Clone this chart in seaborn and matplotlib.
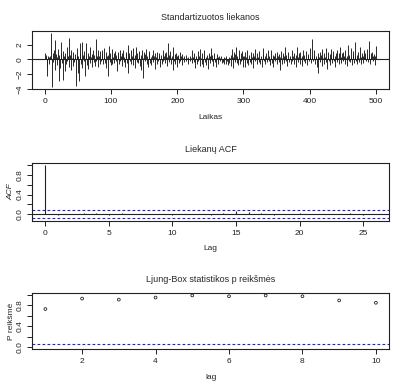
import numpy as np
import pandas as pd
import matplotlib
matplotlib.use('Agg')
import matplotlib.pyplot as plt
import seaborn as sns

# standardised residuals (500 obs)
RESID = [
    0.8, 0.6, -2.2, -1.1, 0.4, 0.3, -0.6, 0.5, 0.2, 3.55, -3.75, 0.9, -0.4, 1.2, 2.6, -1.5, 0.7, -0.8, 0.3, 1.4,
    -3.0, 0.6, -1.2, 0.8, 2.3, -0.5, -2.8, 1.1, 0.4, -1.6, 0.9, -0.7, 1.7, -0.3, 0.5, -1.0, 2.9, 0.6, -1.4, 1.3,
    0.2, -0.9, 1.0, -0.4, 0.7, 0.3, -3.6, 0.5, 1.5, -1.9, 0.4, -3.0, 0.8, 2.2, -0.6, 2.4, -1.2, 0.6, -0.3, 1.1,
    -2.2, 0.5, 2.2, -0.8, 0.9, -1.3, 0.4, 1.6, -0.5, 0.3, -1.0, 0.7, 1.2, -0.4, 0.6, -0.9, 2.8, -0.2, 0.5, -1.1,
    1.3, 0.4, -0.7, 1.1, -0.3, 0.8, 1.2, -0.6, 0.3, 1.5, -0.5, 1.0, -1.2, 0.4, -2.3, 0.6, 1.8, -0.4, 0.9, -0.8,
    1.4, -0.6, 0.3, 0.9, -0.5, 1.1, -0.3, 0.6, -1.6, 1.0, 0.4, -0.7, 1.3, -0.2, 0.5, -0.9, 0.8, 1.2, -0.4, 0.3,
    -1.1, 0.7, 1.0, -0.5, 1.9, -1.8, 0.4, 0.9, -0.3, 1.2, -0.6, 0.5, 1.5, -0.8, 0.2, -1.2, 0.6, 1.7, -0.4, 0.8,
    -0.5, 1.1, 0.3, -0.9, 0.6, -1.4, 1.3, 0.2, -2.5, 1.0, -0.3, 0.7, 1.4, -0.6, 0.4, -1.0, 0.9, 1.1, -0.5, 0.3,
    -0.8, 0.6, 1.2, -0.4, 0.5, -1.3, 0.8, 0.3, -0.6, 1.0, -0.2, 0.4, 0.9, -1.1, 0.6, 0.2, -0.7, 1.3, -0.3, 0.5,
    0.8, -0.5, 1.0, 0.3, -0.9, 2.2, -0.4, 0.6, 1.1, -0.7, 0.2, 0.5, -1.5, 1.6, -0.3, 0.7, -0.6, 0.9, 0.4, -1.0,
    0.6, 0.3, -0.5, 1.0, -0.2, 0.4, -0.8, 0.7, 0.2, -0.4, 0.5, 0.1, -0.3, 0.6, 0.2, -0.6, 0.3, 0.1, -0.2, 0.4,
    0.2, -0.5, 1.3, 0.3, -0.4, 0.8, -1.2, 0.5, 0.2, -0.7, 1.1, -0.3, 0.4, -0.9, 1.4, 0.2, -0.6, 0.9, -1.0, 0.5,
    1.2, -0.4, 0.3, -0.8, 0.6, 0.2, -1.3, 0.9, 0.4, -0.5, 1.5, -0.2, 0.6, -0.9, 0.3, 0.8, -0.4, 0.2, -1.1, 0.7,
    0.3, -0.6, 0.5, 0.2, -0.3, 0.4, -0.5, 0.1, -0.4, 0.3, -0.6, 0.2, -0.7, 0.4, -0.3, 0.1, -0.8, 0.3, -0.5, 0.2,
    0.6, -0.9, 1.4, 0.3, -1.2, 1.0, -0.4, 0.7, 1.6, -0.5, 0.4, -0.8, 1.2, 0.2, -0.6, 0.9, -0.3, 1.1, -1.0, 0.5,
    0.4, -1.1, 1.0, 0.3, -0.5, 1.3, -0.8, 0.2, 0.6, -0.4, 1.0, -0.7, 0.3, 0.8, -1.2, 0.5, 1.4, -0.3, 0.2, -0.6,
    0.9, 0.3, -0.4, 1.1, -0.7, 0.5, 0.2, -1.0, 0.7, 1.5, -0.3, 0.4, -0.6, 0.8, 0.2, -0.4, 1.2, -0.2, 0.5, -0.8,
    0.3, 1.3, -0.5, 0.6, -1.0, 0.4, 0.9, -0.3, 0.2, -0.7, 1.0, 0.5, -0.4, 0.7, -1.5, 0.3, 1.1, -0.6, 0.2, 0.8,
    -0.5, 0.4, 1.6, -0.3, 0.6, -0.9, 0.2, 1.0, -0.4, 0.5, 0.3, -0.7, 1.2, -0.2, 0.4, -0.6, 0.8, 0.2, -1.0, 0.6,
    1.7, -0.4, 0.3, 0.8, -0.6, 1.0, 0.2, -0.9, 0.5, 1.3, -0.3, 0.6, -0.5, 0.2, 1.1, -0.8, 0.4, 0.7, -0.3, 1.5,
    0.3, -0.5, 2.8, 0.4, -0.3, 0.6, 1.2, -0.7, 0.2, 0.5, -1.1, 0.8, -1.8, 0.3, 1.0, -0.4, 0.6, -0.9, 1.4, 0.2,
    -0.6, 0.9, 0.3, -0.4, 1.5, -1.3, 0.5, 1.0, -0.2, 0.7, -0.8, 1.4, 0.3, -0.5, 0.6, 1.1, -0.3, 0.4, -1.0, 0.8,
    1.3, -0.4, 0.2, 0.9, -0.7, 1.6, 0.3, -0.5, 0.8, -0.3, 1.0, 0.4, -0.6, 1.2, 0.2, -0.9, 0.5, 1.9, -0.3, 0.6,
    -0.4, 1.5, 0.3, -0.8, 0.7, 1.1, -0.5, 0.4, 2.4, -0.3, 0.6, -0.6, 1.0, 0.2, -0.4, 1.6, 0.3, -0.7, 0.9, 0.4,
    -0.5, 1.2, 0.3, 0.8, -0.3, 0.5, 1.4, -0.4, 0.6, 2.5, -0.6, 0.3, 0.8, 1.0, -0.2, 0.5, 0.7, -0.8, 0.4, 1.8,
]

# residual autocorrelations, lags 0..26
ACF_LAGS = list(range(27))
ACF_VALS = [1.0, -0.01, 0.005, 0.02, 0.025, -0.01, 0.015, -0.005, 0.01, 0.012,
            -0.02, 0.0, 0.01, -0.015, 0.02, 0.07, 0.04, 0.015, -0.01, 0.005,
            0.025, 0.01, -0.005, 0.0, 0.03, -0.01, 0.005]

# Ljung-Box p values
LB_LAGS = list(range(1, 11))
LB_PVALS = [0.73, 0.93, 0.91, 0.95, 0.99, 0.975, 0.99, 0.975, 0.895, 0.85]

TITLES = ['Standartizuotos liekanos', 'Liekanų ACF', 'Ljung-Box statistikos p reikšmės']


def r_range(lo, hi):
    """Mimic R's 4% axis extension."""
    pad = 0.04 * (hi - lo)
    return lo - pad, hi + pad


def r_axes(fig, rect):
    ax = fig.add_axes(rect)
    for sp in ax.spines.values():
        sp.set_visible(True)
        sp.set_color('#222222')
        sp.set_linewidth(0.8)
    ax.tick_params(direction='out', length=3.5, width=0.7, labelsize=6, pad=3, colors='#222222')
    ax.grid(False)
    return ax


def main():
    sns.set_style('ticks')
    plt.rcParams['font.family'] = ['Liberation Sans', 'DejaVu Sans']

    fig = plt.figure(figsize=(4.07, 3.91), dpi=100)
    left, width = 0.079, 0.877

    df_res = pd.DataFrame({'time': np.arange(1, len(RESID) + 1), 'resid': RESID})
    df_acf = pd.DataFrame({'lag': ACF_LAGS, 'acf': ACF_VALS})
    df_lb = pd.DataFrame({'lag': LB_LAGS, 'p': LB_PVALS})
    clim = 1.96 / np.sqrt(len(RESID))

    # panel 1: residuals
    ax1 = r_axes(fig, [left, 0.772, width, 0.149])
    ax1.vlines(df_res.time, 0, df_res.resid, color='#1a1a1a', linewidth=0.65)
    ax1.axhline(0, color='#222222', linewidth=0.8)
    ax1.set_xlim(*r_range(df_res.time.min(), df_res.time.max()))
    ax1.set_ylim(*r_range(df_res.resid.min(), df_res.resid.max()))
    ax1.set_xticks(np.arange(0, 501, 100))
    ax1.set_yticks([-4, -2, 0, 2])
    ax1.set_xlabel('Laikas', fontsize=6, labelpad=6)

    # panel 2: ACF
    ax2 = r_axes(fig, [left, 0.436, width, 0.147])
    ax2.vlines(df_acf.lag, 0, df_acf.acf, color='#222222', linewidth=0.8)
    ax2.axhline(0, color='#222222', linewidth=0.8)
    for c in (clim, -clim):
        ax2.axhline(c, color='#2020e0', linestyle=(0, (2.5, 2)), linewidth=0.8)
    ax2.set_xlim(*r_range(df_acf.lag.min(), df_acf.lag.max()))
    ax2.set_ylim(*r_range(min(-clim, df_acf.acf.min()), max(clim, df_acf.acf.max())))
    ax2.set_xticks(np.arange(0, 26, 5))
    ax2.set_yticks(np.arange(0, 1.01, 0.2))
    ax2.set_yticklabels(['0.0', '', '0.4', '', '0.8', ''])
    ax2.set_xlabel('Lag', fontsize=6, labelpad=6)
    ax2.set_ylabel('ACF', fontsize=6, style='italic', labelpad=1)

    # panel 3: Ljung-Box p values
    ax3 = r_axes(fig, [left, 0.107, width, 0.144])
    sns.scatterplot(data=df_lb, x='lag', y='p', ax=ax3, marker='o', s=4,
                    facecolor='none', edgecolor='#222222', linewidth=0.6, legend=False)
    ax3.axhline(0.05, color='#2020e0', linestyle=(0, (2.5, 2)), linewidth=0.8)
    ax3.set_xlim(*r_range(df_lb.lag.min(), df_lb.lag.max()))
    ax3.set_ylim(*r_range(0, 1))
    ax3.set_xticks(np.arange(2, 11, 2))
    ax3.set_yticks(np.arange(0, 1.01, 0.2))
    ax3.set_yticklabels(['0.0', '', '0.4', '', '0.8', ''])
    ax3.set_xlabel('lag', fontsize=6, labelpad=6)
    ax3.set_ylabel('P reikšmė', fontsize=6, labelpad=1)

    for ax, title in zip((ax1, ax2, ax3), TITLES):
        ax.set_title(title, fontsize=6.5, pad=8)
        for lab in ax.get_yticklabels():
            lab.set_rotation(90)
            lab.set_va('center')

    fig.savefig('out.png', dpi=100)
    plt.close(fig)


if __name__ == "__main__":
    main()
